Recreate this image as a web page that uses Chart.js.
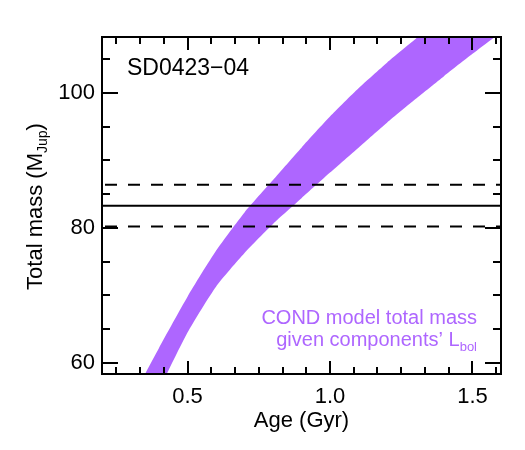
<!DOCTYPE html>
<html>
<head>
<meta charset="utf-8">
<script src="https://cdn.jsdelivr.net/npm/chart.js@4.4.0/dist/chart.umd.min.js"></script>
<style>
  html, body { margin: 0; padding: 0; background: #fff; }
</style>
</head>
<body>
<canvas id="massChart" width="525" height="450"></canvas>
<script>
// COND model band: edges of the allowed region, age (Gyr) vs total mass (MJup)
const upperAge  = [0.3,  0.4,  0.5,  0.6,  0.7,  0.8,  0.9,  1.0,  1.1,   1.2,   1.3,   1.4];
const upperMass = [54.3, 62.2, 69.8, 76.6, 82.3, 87.1, 91.9, 96.5, 100.7, 104.5, 108.0, 111.3];
const lowerAge  = [0.4,  0.5,  0.6,  0.7,  0.8,  0.9,  1.0,  1.1,  1.2,  1.3,  1.4,   1.5,   1.6,   1.7];
const lowerMass = [56.0, 64.5, 71.3, 76.3, 80.6, 84.4, 88.2, 91.9, 95.6, 99.1, 102.5, 105.8, 109.0, 112.2];

// measured total mass and its 1-sigma limits
const massBest = 83.3;
const massLow = 80.2;
const massHigh = 86.4;

const xTicks = [0.5, 1.0, 1.5];
const yTicks = [60, 80, 100];

const FONT = '"Liberation Sans", Arial, Helvetica, sans-serif';
const PURPLE = '#ae66ff';

// closed outline: up one edge, back down the other
const bandPoints = upperAge.map((a, i) => ({ x: a, y: upperMass[i] }))
    .concat(lowerAge.map((a, i) => ({ x: a, y: lowerMass[i] })).reverse());

function hline(v) {
    return [{ x: 0.2, y: v }, { x: 1.6, y: v }];
}

// draw a line of text made of pieces (for subscripts)
function drawRich(ctx, parts, x, y, align) {
    let total = 0;
    parts.forEach(p => {
        ctx.font = p.size + 'px ' + FONT;
        p.w = ctx.measureText(p.t).width;
        total += p.w;
    });
    let cx = align === 'right' ? x - total : align === 'center' ? x - total / 2 : x;
    ctx.textAlign = 'left';
    ctx.textBaseline = 'alphabetic';
    parts.forEach(p => {
        ctx.font = p.size + 'px ' + FONT;
        ctx.fillText(p.t, cx, y + (p.dy || 0));
        cx += p.w;
    });
}

const framePlugin = {
    id: 'frame',
    afterDraw(chart) {
        const ctx = chart.ctx;
        const { left, right, top, bottom } = chart.chartArea;
        const xs = chart.scales.x, ys = chart.scales.y;
        ctx.save();
        ctx.strokeStyle = '#000';
        ctx.lineWidth = 2;
        ctx.strokeRect(left, top, right - left, bottom - top);

        // x ticks, 6 minor intervals per major
        const xStep = (xTicks[1] - xTicks[0]) / 6;
        for (let k = -20; k <= 30; k++) {
            const v = xTicks[0] + k * xStep;
            if (v <= xs.min + 1e-6 || v >= xs.max - 1e-6) continue;
            const px = Math.round(xs.getPixelForValue(v));
            const len = (k % 6 === 0) ? 13 : 7;
            ctx.beginPath();
            ctx.moveTo(px, bottom); ctx.lineTo(px, bottom - len);
            ctx.moveTo(px, top); ctx.lineTo(px, top + len);
            ctx.stroke();
        }
        // y ticks, minor every 5
        for (let v = 55; v <= 110; v += 5) {
            if (v <= ys.min || v >= ys.max) continue;
            const py = Math.round(ys.getPixelForValue(v));
            const len = yTicks.includes(v) ? 16 : 8;
            ctx.beginPath();
            ctx.moveTo(left, py); ctx.lineTo(left + len, py);
            ctx.moveTo(right, py); ctx.lineTo(right - len, py);
            ctx.stroke();
        }

        ctx.fillStyle = '#000';
        drawRich(ctx, [{ t: 'SD0423\u221204', size: 23 }], 127, 75, 'left');
        drawRich(ctx, [{ t: 'Age (Gyr)', size: 22 }], (left + right) / 2, 427, 'center');

        ctx.save();
        ctx.translate(41.5, 206.5);
        ctx.rotate(-Math.PI / 2);
        drawRich(ctx, [
            { t: 'Total mass (M', size: 22 },
            { t: 'Jup', size: 14, dy: 5 },
            { t: ')', size: 22 }
        ], 0, 0, 'center');
        ctx.restore();

        ctx.fillStyle = PURPLE;
        drawRich(ctx, [{ t: 'COND model total mass', size: 20 }], 477, 324, 'right');
        drawRich(ctx, [
            { t: 'given components\u2019 L', size: 20 },
            { t: 'bol', size: 13, dy: 5 }
        ], 477, 346, 'right');
        ctx.restore();
    }
};

const tickFont = { family: FONT, size: 22 };

new Chart(document.getElementById('massChart'), {
    type: 'scatter',
    data: {
        datasets: [
            {
                data: bandPoints,
                showLine: true,
                fill: 'shape',
                tension: 0.2,
                backgroundColor: PURPLE,
                borderColor: 'rgba(0,0,0,0)',
                borderWidth: 0,
                pointRadius: 0,
                order: 2
            },
            {
                data: hline(massBest),
                showLine: true,
                borderColor: '#000',
                borderWidth: 2,
                pointRadius: 0,
                order: 1
            },
            {
                data: hline(massLow),
                showLine: true,
                borderColor: '#000',
                borderWidth: 2,
                borderDash: [12, 11],
                borderDashOffset: -3,
                pointRadius: 0,
                order: 1
            },
            {
                data: hline(massHigh),
                showLine: true,
                borderColor: '#000',
                borderWidth: 2,
                borderDash: [12, 11],
                borderDashOffset: -3,
                pointRadius: 0,
                order: 1
            }
        ]
    },
    options: {
        responsive: false,
        animation: false,
        layout: { padding: { top: 37, right: 24, left: 0, bottom: 0 } },
        plugins: {
            legend: { display: false },
            tooltip: { enabled: false }
        },
        scales: {
            x: {
                type: 'linear',
                min: 0.2,
                max: 1.6,
                afterBuildTicks: s => { s.ticks = xTicks.map(v => ({ value: v })); },
                afterFit: s => { s.height = 76; },
                grid: { display: false, drawTicks: false },
                border: { display: false },
                ticks: {
                    color: '#000',
                    font: tickFont,
                    padding: 10,
                    maxRotation: 0,
                    autoSkip: false,
                    callback: v => v.toFixed(1)
                }
            },
            y: {
                type: 'linear',
                min: 58.35,
                max: 108.3,
                afterBuildTicks: s => { s.ticks = yTicks.map(v => ({ value: v })); },
                afterFit: s => { s.width = 102; },
                grid: { display: false, drawTicks: false },
                border: { display: false },
                ticks: {
                    color: '#000',
                    font: tickFont,
                    padding: 7,
                    autoSkip: false,
                    callback: v => String(v)
                }
            }
        }
    },
    plugins: [framePlugin]
});
</script>
</body>
</html>
